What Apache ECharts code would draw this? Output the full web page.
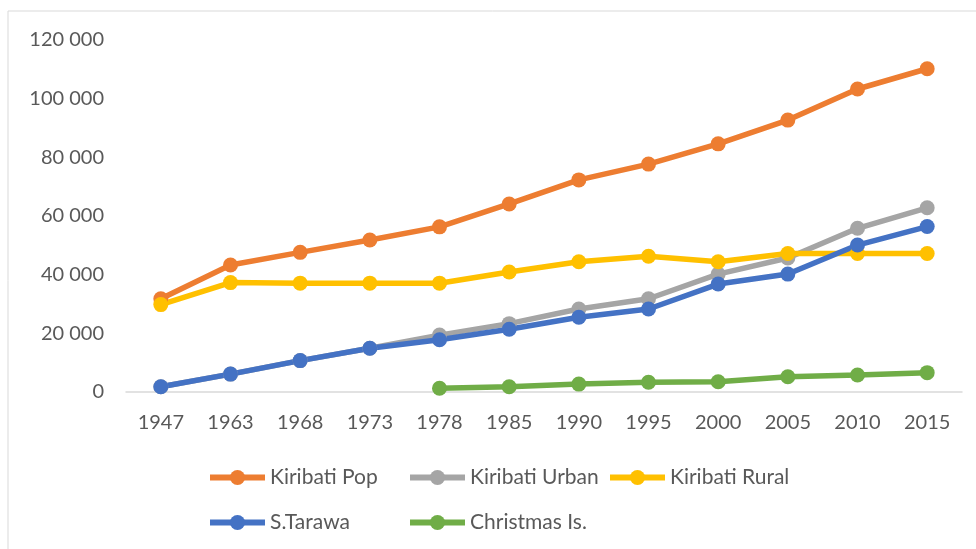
<!DOCTYPE html>
<html>
<head>
<meta charset="utf-8">
<script src="https://cdn.jsdelivr.net/npm/echarts@6/dist/echarts.min.js"></script>
<style>
html,body{margin:0;padding:0;background:#fff;}
#chart{width:976px;height:549px;}
</style>
</head>
<body>
<div id="chart"></div>
<script>
const years = ['1947','1963','1968','1973','1978','1985','1990','1995','2000','2005','2010','2015'];
const kiribatiPop = [31800, 43300, 47600, 51800, 56300, 64100, 72300, 77700, 84600, 92700, 103300, 110200];
const kiribatiUrban = [1800, 6100, 10700, 14900, 19400, 23300, 28300, 31800, 40200, 45700, 55800, 62800];
const kiribatiRural = [29800, 37300, 37100, 37100, 37100, 40900, 44400, 46300, 44400, 47200, 47200, 47200];
const sTarawa = [1800, 6100, 10700, 14900, 17800, 21400, 25500, 28300, 36800, 40200, 50100, 56400];
const christmasIs = [null, null, null, null, 1300, 1800, 2700, 3300, 3500, 5200, 5800, 6600];
const seriesNames = ['Kiribati Pop', 'Kiribati Urban', 'Kiribati Rural', 'S.Tarawa', 'Christmas Is.'];
const seriesColors = ['#ED7D31', '#A5A5A5', '#FFC000', '#4472C4', '#70AD47'];
const seriesData = [kiribatiPop, kiribatiUrban, kiribatiRural, sTarawa, christmasIs];

const FONT = 'Lato';
const chart = echarts.init(document.getElementById('chart'), null, {renderer: 'canvas'});

// legend grid: 3 columns, 2 rows (Excel-like layout)
const legendCols = [207, 407, 607];
const legendRows = [467, 512];
const legends = seriesNames.map((name, i) => ({
  data: [name],
  left: legendCols[i % 3],
  top: legendRows[Math.floor(i / 3)],
  orient: 'horizontal',
  itemWidth: 55,
  itemHeight: 19,
  itemGap: 4,
  selectedMode: false,
  padding: 0,
  lineStyle: {width: 6},
  textStyle: {color: '#595959', fontSize: 21, fontFamily: FONT}
}));

chart.setOption({
  animation: false,
  backgroundColor: '#fff',
  graphic: [{
    type: 'rect',
    shape: {x: 8, y: 11, width: 1000, height: 600},
    style: {fill: 'none', stroke: '#d9d9d9', lineWidth: 1},
    silent: true
  }],
  grid: {left: 126, right: 14, top: 40, bottom: 157},
  legend: legends,
  xAxis: {
    type: 'category',
    data: years,
    boundaryGap: true,
    axisLine: {lineStyle: {color: '#d9d9d9', width: 1.5}},
    axisTick: {show: false},
    axisLabel: {color: '#595959', fontSize: 20, fontFamily: FONT, margin: 21}
  },
  yAxis: {
    type: 'value',
    min: 0,
    max: 120000,
    interval: 20000,
    splitLine: {show: false},
    axisLine: {show: false},
    axisTick: {show: false},
    axisLabel: {
      color: '#595959', fontSize: 20, fontFamily: FONT, margin: 22,
      formatter: v => String(v).replace(/\B(?=(\d{3})+(?!\d))/g, ' ')
    }
  },
  series: seriesNames.map((name, i) => ({
    name: name,
    type: 'line',
    data: seriesData[i],
    symbol: 'circle',
    symbolSize: 15,
    showSymbol: true,
    connectNulls: false,
    color: seriesColors[i],
    lineStyle: {color: seriesColors[i], width: 5.5},
    itemStyle: {color: seriesColors[i]}
  }))
});
</script>
</body>
</html>
